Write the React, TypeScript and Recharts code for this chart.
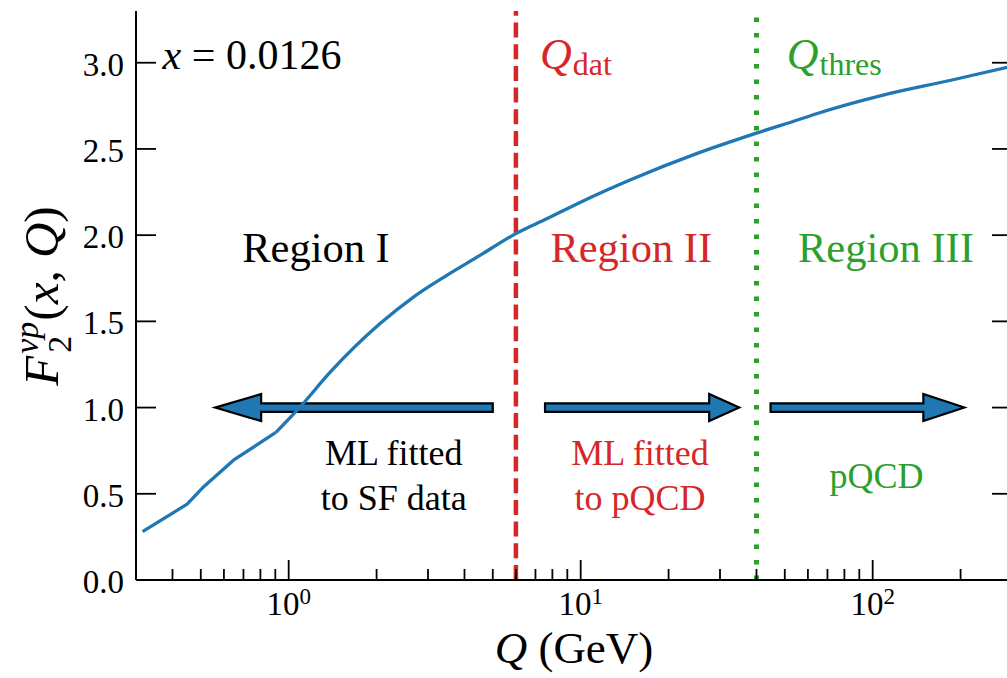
import React from "react";
import { LineChart, Line, XAxis, YAxis, ReferenceLine, ReferenceDot } from "recharts";

// ---- data ----
// low-Q part (coarse, straight segments in the reference)
const qLow = [0.316, 0.449, 0.506, 0.647, 0.904];
const f2Low = [0.28, 0.44, 0.533, 0.695, 0.856];
// smooth part
const qHigh = [0.904, 1.095, 1.387, 2.056, 2.674, 3.478, 4.52, 6.0, 7.65, 9.95, 15.1, 25.6, 40, 56.3, 64.2, 108.6, 183.6, 300];
const f2High = [0.856, 1.004, 1.205, 1.487, 1.641, 1.767, 1.883, 2.009, 2.095, 2.19, 2.327, 2.48, 2.592, 2.672, 2.704, 2.812, 2.897, 2.98];

const xDomain = [0.3, 300];
const yDomain = [0, 3.3];
const majorXTicks = [1, 10, 100];
const minorXTicks = [0.4, 0.5, 0.6, 0.7, 0.8, 0.9, 2, 3, 4, 5, 6, 7, 8, 9, 20, 30, 40, 50, 60, 70, 80, 90, 200];
const yTicks = [0, 0.5, 1.0, 1.5, 2.0, 2.5, 3.0];

const qDat = 6;
const qThres = 40;

const arrowTail = [5.0, 7.55, 44.7];
const arrowTip = [0.56, 34.9, 206];
const arrowLevel = 1.0;

const regionNames = ["Region I", "Region II", "Region III"];
const regionQ = [1.24, 14.9, 111];
const regionF = 1.846;

const noteLines = [["ML fitted", "to SF data"], ["ML fitted", "to pQCD"], ["pQCD"]];
const noteQ = [2.29, 15.96, 103];
const noteF = [[0.667, 0.406], [0.667, 0.406], [0.536]];

const xNote = "x = 0.0126";
const xNoteQ = 0.37;
const xNoteF = 2.965;

const thresNames = ["dat", "thres"];
const thresLabelQ = [7.25, 50.8];
const thresLabelF = 2.965;

// ---- styles ----
const FONT = "'Liberation Serif', 'Times New Roman', serif";
const BLUE = "#1f77b4";
const RED = "#d62728";
const GREEN = "#2ca02c";
const colors = ["#000000", RED, GREEN];
const arrowHeadLen = [46, 30, 41];

const rowMap = new Map<number, any>();
qLow.forEach((q, i) => rowMap.set(q, { ...(rowMap.get(q) || { q }), low: f2Low[i] }));
qHigh.forEach((q, i) => rowMap.set(q, { ...(rowMap.get(q) || { q }), high: f2High[i] }));
const data = Array.from(rowMap.values()).sort((a, b) => a.q - b.q);
const allXTicks = [...minorXTicks, ...majorXTicks].sort((a, b) => a - b);

function BottomTick(props: any) {
  const { x, y, payload } = props;
  const v = payload.value;
  const major = majorXTicks.includes(v);
  const exp = Math.round(Math.log10(v));
  return (
    <g>
      <line x1={x} y1={y} x2={x} y2={y - (major ? 20 : 11)} stroke="#000" strokeWidth={1.8} />
      {major && (
        <text x={x} y={y + 35} textAnchor="middle" fontFamily={FONT} fontSize={33} fill="#000">
          10
          <tspan dy={-11} fontSize={23}>
            {exp}
          </tspan>
        </text>
      )}
    </g>
  );
}

function LeftTick(props: any) {
  const { x, y, payload } = props;
  return (
    <g>
      <line x1={x} y1={y} x2={x + 20} y2={y} stroke="#000" strokeWidth={1.8} />
      <text x={x - 12} y={y + 13} textAnchor="end" fontFamily={FONT} fontSize={33} fill="#000">
        {Number(payload.value).toFixed(1)}
      </text>
    </g>
  );
}

function RightTick(props: any) {
  const { x, y } = props;
  return <line x1={x} y1={y} x2={x - 20} y2={y} stroke="#000" strokeWidth={1.8} />;
}

function makeArrow(headLen: number) {
  return (p: any) => {
    const { x1, y1, x2 } = p;
    const y = y1;
    const dir = x2 > x1 ? 1 : -1;
    const sw = 4.3;
    const hw = 13.5;
    const xb = x2 - dir * headLen;
    const pts = [
      [x1, y - sw],
      [xb, y - sw],
      [xb, y - hw],
      [x2, y],
      [xb, y + hw],
      [xb, y + sw],
      [x1, y + sw],
    ]
      .map((pt) => pt.join(","))
      .join(" ");
    return <polygon points={pts} fill={BLUE} stroke="#000" strokeWidth={2.2} strokeLinejoin="miter" />;
  };
}

export default function App() {
  return (
    <div
      style={{
        position: "absolute",
        left: 0,
        top: 0,
        width: 1007,
        height: 678,
        overflow: "hidden",
        background: "#fff",
      }}
    >
      <LineChart width={1015} height={678} data={data} margin={{ top: 11, right: 0, bottom: 0, left: 0 }}>
        <XAxis
          dataKey="q"
          type="number"
          scale="log"
          domain={xDomain}
          allowDataOverflow
          ticks={allXTicks}
          interval={0}
          tickSize={0}
          tickMargin={0}
          tickLine={false}
          tick={BottomTick}
          height={98}
          axisLine={{ stroke: "#000", strokeWidth: 2 }}
        />
        <XAxis
          xAxisId="top"
          orientation="top"
          type="number"
          scale="log"
          domain={xDomain}
          allowDataOverflow
          height={0}
          tick={false}
          tickLine={false}
          axisLine={{ stroke: "#000", strokeWidth: 2 }}
        />
        <YAxis
          type="number"
          domain={yDomain}
          allowDataOverflow
          ticks={yTicks}
          interval={0}
          width={136}
          tickSize={0}
          tickMargin={0}
          tickLine={false}
          tick={LeftTick}
          axisLine={{ stroke: "#000", strokeWidth: 2 }}
        />
        <YAxis
          yAxisId="r"
          orientation="right"
          type="number"
          domain={yDomain}
          allowDataOverflow
          ticks={yTicks}
          interval={0}
          width={3}
          tickSize={0}
          tickMargin={0}
          tickLine={false}
          tick={RightTick}
          axisLine={{ stroke: "#000", strokeWidth: 2 }}
        />

        <ReferenceLine x={qDat} stroke={RED} strokeWidth={4.5} strokeDasharray="15 6.7" zIndex={100} />
        <ReferenceLine x={qThres} stroke={GREEN} strokeWidth={5} strokeDasharray="4.5 11" zIndex={100} />

        {arrowTail.map((t, i) => (
          <ReferenceLine
            key={"arrow" + i}
            segment={[
              { x: t, y: arrowLevel },
              { x: arrowTip[i], y: arrowLevel },
            ]}
            shape={makeArrow(arrowHeadLen[i])}
            zIndex={100}
          />
        ))}

        <Line
          dataKey="low"
          type="linear"
          stroke={BLUE}
          strokeWidth={3.3}
          strokeLinejoin="round"
          dot={false}
          activeDot={false}
          isAnimationActive={false}
        />
        <Line
          dataKey="high"
          type="monotone"
          stroke={BLUE}
          strokeWidth={3.3}
          strokeLinejoin="round"
          dot={false}
          activeDot={false}
          isAnimationActive={false}
        />

        <ReferenceDot
          x={xNoteQ}
          y={xNoteF}
          r={0}
          shape={(p: any) => (
            <text x={p.cx} y={p.cy} fontFamily={FONT} fontSize={42} fill="#000">
              <tspan fontStyle="italic">{xNote.slice(0, 1)}</tspan>
              {xNote.slice(1)}
            </text>
          )}
        />

        {thresNames.map((n, i) => (
          <ReferenceDot
            key={"th" + i}
            x={thresLabelQ[i]}
            y={thresLabelF}
            r={0}
            shape={(p: any) => (
              <text x={p.cx} y={p.cy} fontFamily={FONT} fontSize={44} fill={i === 0 ? RED : GREEN}>
                <tspan fontStyle="italic">Q</tspan>
                <tspan fontSize={32} dy={6} dx={1}>
                  {n}
                </tspan>
              </text>
            )}
          />
        ))}

        {regionNames.map((n, i) => (
          <ReferenceDot
            key={"rg" + i}
            x={regionQ[i]}
            y={regionF}
            r={0}
            shape={(p: any) => (
              <text x={p.cx} y={p.cy} textAnchor="middle" fontFamily={FONT} fontSize={42.5} fill={colors[i]}>
                {n}
              </text>
            )}
          />
        ))}

        {noteLines.map((lines, i) =>
          lines.map((ln, j) => (
            <ReferenceDot
              key={"nt" + i + "_" + j}
              x={noteQ[i]}
              y={noteF[i][j]}
              r={0}
              shape={(p: any) => (
                <text x={p.cx} y={p.cy} textAnchor="middle" fontFamily={FONT} fontSize={36} fill={colors[i]}>
                  {ln}
                </text>
              )}
            />
          ))
        )}
      </LineChart>

      <svg
        width={1007}
        height={678}
        style={{ position: "absolute", left: 0, top: 0, pointerEvents: "none" }}
      >
        <text x={574} y={663} textAnchor="middle" fontFamily={FONT} fontSize={45} fill="#000">
          <tspan fontStyle="italic">Q</tspan>
          {" (GeV)"}
        </text>
        <text transform="translate(58,296) rotate(-90)" textAnchor="middle" fontFamily={FONT} fontSize={49} fill="#000">
          <tspan fontStyle="italic">F</tspan>
          <tspan fontStyle="italic" fontSize={34} dy={-20} dx={2}>
            νp
          </tspan>
          <tspan fontSize={34} dy={33} dx={-31}>
            2
          </tspan>
          <tspan dy={-13} dx={15}>
            (
          </tspan>
          <tspan fontStyle="italic">x</tspan>
          <tspan>{", "}</tspan>
          <tspan fontStyle="italic">Q</tspan>
          <tspan>)</tspan>
        </text>
      </svg>
    </div>
  );
}
